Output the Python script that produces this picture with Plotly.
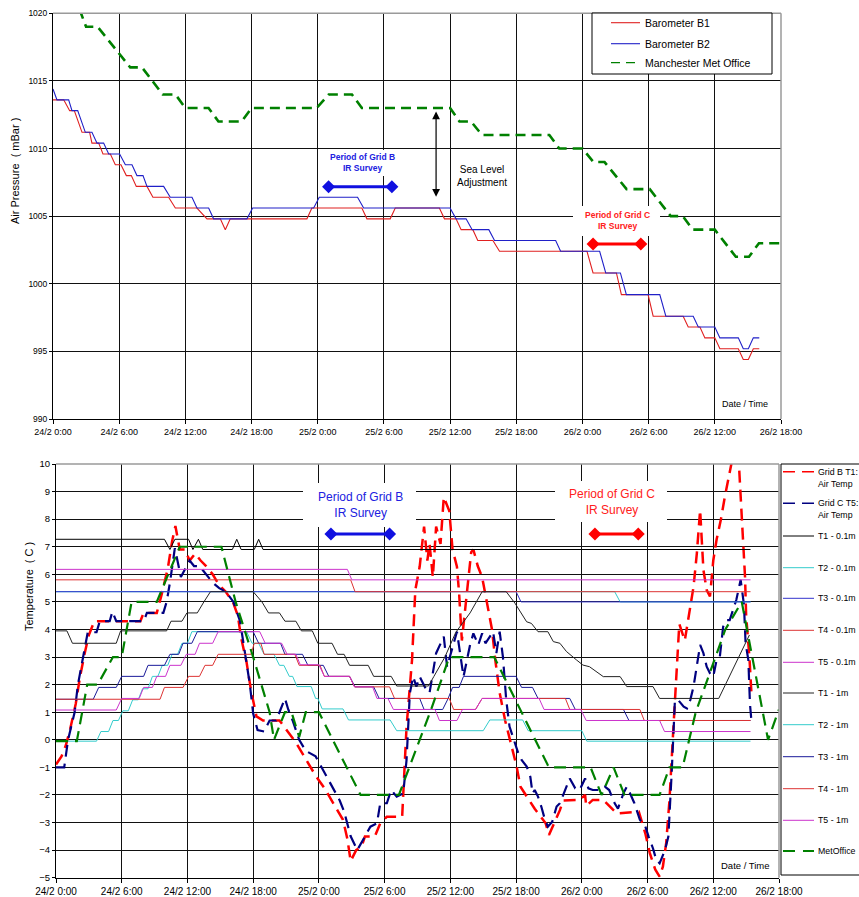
import plotly.graph_objects as go

W, H = 859, 897
FONT = "Liberation Sans, Arial, sans-serif"

# ---------------- shared x ticks (hours after 24/2 0:00) ----------------
tick_hours = [0, 6, 12, 18, 24, 30, 36, 42, 48, 54, 60, 66]
tick_labels = ["24/2 0:00", "24/2 6:00", "24/2 12:00", "24/2 18:00", "25/2 0:00", "25/2 6:00",
               "25/2 12:00", "25/2 18:00", "26/2 0:00", "26/2 6:00", "26/2 12:00", "26/2 18:00"]

# ---------------- top chart: air pressure (mBar) ----------------
p_ticks = [990, 995, 1000, 1005, 1010, 1015, 1020]

b1_t = [0, 0.97, 1.51, 1.93, 2.63, 3.32, 3.53, 4.14, 4.53, 5.2, 5.65, 6.16, 6.65, 7.1, 7.55, 8.52, 9.06,
        10.48, 11.09, 13.05, 13.96, 15.17, 15.62, 16.07, 23.02, 23.47, 28.0, 28.46, 30.57, 31.03, 35.03,
        35.49, 36.54, 37.0, 38.06, 38.51, 39.88, 40.48, 48.41, 48.96, 51.08, 51.53, 53.95, 54.41, 57.13,
        57.59, 58.65, 59.1, 60.0, 60.46, 62.13, 62.58, 63.04, 63.49, 64.03]
b1_v = [1013.6, 1013.6, 1012.8, 1012.8, 1011.2, 1011.2, 1010.4, 1010.4, 1009.6, 1009.6, 1008.8, 1008.8,
        1008.0, 1008.0, 1007.2, 1007.2, 1006.4, 1006.4, 1005.6, 1005.6, 1004.8, 1004.8, 1004.0, 1004.8,
        1004.8, 1005.6, 1005.6, 1004.8, 1004.8, 1005.6, 1005.6, 1004.8, 1004.8, 1004.0, 1004.0, 1003.2,
        1003.2, 1002.4, 1002.4, 1000.8, 1000.8, 999.2, 999.2, 997.6, 997.6, 996.8, 996.8, 996.0, 996.0,
        995.2, 995.2, 994.4, 994.4, 995.2, 995.2]

b2_t = [0, 0.36, 1.42, 1.72, 2.24, 2.93, 3.53, 3.99, 4.59, 5.05, 6.04, 6.56, 7.16, 7.61, 8.16, 8.52,
        10.03, 10.63, 12.6, 13.05, 14.11, 14.56, 17.58, 18.1, 23.63, 24.14, 27.61, 28.16, 36.0, 36.54,
        37.45, 38.0, 39.51, 40.03, 45.57, 46.02, 49.56, 50.11, 51.44, 51.98, 55.01, 55.56, 58.04, 58.5,
        60.0, 60.46, 62.13, 62.58, 63.04, 63.49, 64.03]
b2_v = [1014.4, 1013.6, 1013.6, 1012.8, 1012.8, 1011.2, 1011.2, 1010.4, 1010.4, 1009.6, 1009.6, 1008.8,
        1008.8, 1008.0, 1008.0, 1007.2, 1007.2, 1006.4, 1006.4, 1005.6, 1005.6, 1004.8, 1004.8, 1005.6,
        1005.6, 1006.4, 1006.4, 1005.6, 1005.6, 1004.8, 1004.8, 1004.0, 1004.0, 1003.2, 1003.2, 1002.4,
        1002.4, 1000.8, 1000.8, 999.2, 999.2, 997.6, 997.6, 996.8, 996.8, 996.0, 996.0, 995.2, 995.2,
        996.0, 996.0]

mo_t = [2.4, 3.0, 4.05, 7.0, 8.07, 9.94, 11.1, 12.0, 14.1, 15.0, 17.1, 18.0, 23.9, 25.0, 27.1, 28.0,
        36.0, 36.85, 37.9, 38.9, 45.0, 45.9, 48.0, 49.0, 50.0, 52.0, 54.1, 56.0, 57.1, 58.0, 60.0, 61.9,
        63.1, 64.0, 66.0]
mo_v = [1020.3, 1019, 1019, 1016, 1016, 1014, 1014, 1013, 1013, 1012, 1012, 1013, 1013, 1014, 1014, 1013,
        1013, 1012, 1012, 1011, 1011, 1010, 1010, 1009, 1009, 1007, 1007, 1005, 1005, 1004, 1004, 1002,
        1002, 1003, 1003]

# survey periods (top chart)
gridB_p_t = [24.98, 30.72]
gridB_p_v = [1007.18, 1007.18]
gridC_p_t = [48.96, 53.29]
gridC_p_v = [1002.94, 1002.94]
sea_level_t = 34.73
sea_level_v = [1006.44, 1012.85]

# ---------------- bottom chart: temperature (C) ----------------
t_ticks = list(range(-5, 11))

gb_t = [0, 0.5, 0.9, 1.3, 1.8, 2.2, 2.6, 3.0, 3.5, 7.7, 8.0, 9.2, 9.6, 10.2, 10.6, 10.9, 11.3, 11.75,
        12.2, 12.7, 13.2, 13.7, 14.3, 14.9, 15.5, 16.2, 16.6, 16.9, 17.4, 17.8, 18.3, 18.9, 20.4, 21.9,
        22.8, 23.7, 24.5, 25.3, 26.2, 26.6, 26.9, 27.4, 27.9, 28.2, 29.1, 29.6, 30.2, 31.6, 31.8, 32.0,
        32.5, 32.8, 33.2, 33.6, 33.9, 34.1, 34.4, 34.7, 35.1, 35.4, 35.9, 36.2, 36.6, 36.8, 37.05, 37.3,
        37.6, 37.9, 38.1, 38.5, 38.9, 39.3, 39.8, 40.1, 40.5, 41.0, 41.8, 42.05, 42.4, 42.97, 43.7, 44.7,
        45.0, 46.0, 46.3, 47.8, 48.3, 48.4, 49.0, 49.96, 50.9, 51.2, 53.2, 53.8, 54.2, 54.7, 55.1, 55.4,
        55.7, 56.0, 56.3, 56.6, 56.9, 57.4, 57.8, 58.2, 58.5, 58.8, 59.1, 59.4, 59.7, 60.0, 60.3, 60.7,
        61.05, 61.5, 61.8, 62.3, 62.6, 62.9, 63.0, 63.3, 63.5]
gb_v = [-0.9, -0.6, -0.2, 0.4, 1.3, 2.3, 3.1, 3.8, 4.3, 4.3, 4.6, 4.6, 5.2, 6.2, 7.2, 7.75, 6.9, 6.9,
        6.5, 6.75, 6.5, 6.3, 6.0, 5.6, 5.37, 4.95, 4.5, 3.7, 2.8, 1.8, 0.85, 0.7, 0.7, -0.1,
        -0.7, -1.3, -1.75, -2.3, -2.9, -3.6, -4.4, -4.0, -3.87, -3.51, -3.51, -3.03, -2.79, -2.79, -1.2, 0.47,
        2.89, 5.43, 6.28, 7.73, 6.5, 7.1, 5.9, 7.73, 7.1, 8.8, 8.3, 6.9, 6.28, 5.3, 3.6, 4.5,
        5.7, 6.8, 6.9, 6.3, 5.9, 5.0, 4.0, 2.9, 1.7, 0.7, -0.5, -0.97, -1.7, -2.06, -2.5, -3.03,
        -3.45, -2.55, -2.2, -2.18, -2.0, -2.4, -2.18, -2.18, -2.55, -2.67, -2.6, -3.4, -4.1, -4.7, -4.96, -4.6,
        -3.75, -2.2, 0.0, 2.05, 4.2, 3.6, 4.5, 5.55, 6.76, 8.33, 6.16, 5.43, 5.2, 6.5, 7.25, 8.0,
        8.8, 9.8, 10.3, 10.3, 8.1, 5.9, 4.5, 3.0, 1.56]

gc_t = [0, 0.75, 1.1, 1.7, 2.0, 2.5, 2.9, 3.7, 4.0, 4.9, 5.15, 5.5, 8.0, 8.3, 9.8, 10.1, 10.4, 10.85,
        11.4, 11.8, 12.2, 12.6, 13.1, 14.3, 14.9, 15.5, 16.2, 16.8, 17.2, 17.7, 18.0, 18.4, 19.0, 19.5,
        20.1, 20.9, 21.2, 21.6, 22.2, 22.8, 23.7, 24.5, 25.3, 25.9, 26.3, 26.9, 27.5, 28.2, 28.7, 29.3,
        29.6, 30.2, 30.6, 31.1, 31.7, 32.0, 32.3, 32.6, 32.9, 33.2, 33.8, 34.1, 34.7, 35.4, 35.7, 36.6,
        37.2, 37.8, 38.1, 38.55, 38.9, 39.2, 39.9, 40.2, 40.5, 40.8, 41.1, 41.4, 41.9, 42.2, 42.5, 42.97,
        43.3, 43.5, 43.7, 44.0, 44.3, 44.6, 44.9, 45.3, 45.7, 46.0, 46.6, 46.9, 47.4, 47.8, 48.3, 48.6,
        49.0, 49.6, 50.1, 50.5, 51.0, 51.3, 51.8, 52.1, 52.4, 52.8, 53.3, 53.8, 54.1, 54.5, 54.8, 55.1,
        55.6, 55.9, 56.2, 56.5, 56.8, 57.3, 57.6, 57.9, 58.2, 58.5, 58.8, 59.1, 59.4, 59.7, 60.0, 60.3,
        60.6, 60.9, 61.2, 61.5, 61.8, 62.1, 62.5, 62.8, 62.95, 63.2, 63.35, 63.5]
gc_v = [-1.0, -1.0, 0.0, 1.0, 2.0, 3.0, 3.9, 3.9, 4.3, 4.3, 4.65, 4.3, 4.3, 4.6, 4.6, 5.0, 5.7, 6.95,
        5.9, 6.2, 6.5, 6.3, 6.3, 5.7, 5.5, 5.37, 5.0, 4.3, 3.3, 2.0, 0.95, 0.35, 0.3, 0.7,
        0.7, 1.5, 1.1, 0.7, 0.0, -0.4, -0.6, -1.2, -1.8, -2.2, -2.6, -3.5, -4.0, -3.5, -3.15, -3.03,
        -2.3, -2.3, -1.82, -2.06, -1.94, -0.73, 1.68, 2.29, 1.93, 2.29, 1.81, 1.7, 3.14, 3.74, 2.65, 3.92,
        2.29, 3.44, 3.86, 3.44, 3.86, 3.5, 3.92, 3.14, 3.92, 3.0, 1.44, 0.48, -0.13, -0.49, -0.73, -0.97,
        -1.34, -1.94, -1.82, -2.06, -2.42, -2.85, -3.15, -2.97, -2.42, -2.3, -1.7, -1.4, -1.76, -1.82, -1.4, -1.76,
        -1.82, -1.82, -1.7, -1.82, -2.3, -2.5, -1.94, -1.7, -1.94, -2.3, -2.9, -3.15, -3.51, -3.94, -4.36, -4.48,
        -3.99, -3.51, -1.22, 1.44, 1.44, 1.2, 1.14, 1.44, 1.93, 2.77, 3.44, 3.14, 2.65, 2.41, 2.29, 2.89,
        3.01, 4.1, 4.34, 4.34, 4.7, 5.07, 5.8, 4.9, 3.5, 2.9, 1.3, 0.6]

t1_01_t = [0, 9.9, 10.4, 10.85, 12.1, 12.5, 13.0, 13.4, 16.1, 16.5, 16.9, 18.1, 18.5, 18.9, 63.4]
t1_01_v = [7.27, 7.27, 6.9, 7.27, 7.27, 6.9, 7.27, 6.9, 6.9, 7.27, 6.9, 6.9, 7.27, 6.9, 6.9]
t2_01_t = [0, 51.0, 51.5, 63.4]
t2_01_v = [5.37, 5.37, 5.0, 5.0]
t3_01_t = [0, 42.0, 42.45, 63.4]
t3_01_v = [5.37, 5.37, 5.0, 5.0]
t4_01_t = [0, 26.9, 27.3, 63.4]
t4_01_v = [5.8, 5.8, 5.37, 5.37]
t5_01_t = [0, 26.6, 27.0, 63.4]
t5_01_v = [6.18, 6.18, 5.8, 5.8]

t1_1_t = [0, 1.0, 1.5, 5.5, 5.9, 10.1, 10.5, 11.5, 11.95, 12.9, 13.5, 14.1, 18.0, 18.8, 19.4, 20.4, 20.9,
          21.9, 22.4, 23.4, 23.9, 25.2, 25.7, 26.3, 26.8, 28.5, 29.0, 30.6, 31.1, 34.0, 34.5, 35.5, 36.5,
          37.2, 37.8, 38.9, 41.1, 41.9, 42.5, 42.96, 43.4, 44.0, 44.9, 45.4, 46.0, 46.6, 47.5, 48.1, 48.7,
          49.96, 51.5, 52.1, 54.5, 55.1, 60.5, 63.3]
t1_1_v = [3.95, 3.95, 3.5, 3.5, 3.95, 3.95, 4.3, 4.3, 4.6, 4.6, 5.0, 5.37, 5.37, 5.0, 4.6, 4.6, 4.3,
          4.3, 3.95, 3.95, 3.5, 3.5, 3.1, 3.1, 2.7, 2.7, 2.3, 2.3, 1.95, 1.95, 2.3, 3.0, 3.9,
          4.3, 4.6, 5.37, 5.37, 4.95, 4.59, 4.28, 4.22, 3.92, 3.92, 3.56, 3.5, 3.2, 2.9, 2.71, 2.65,
          2.29, 2.29, 1.93, 1.93, 1.5, 1.5, 3.8]
t2_1_t = [0, 3.7, 4.1, 4.8, 5.2, 5.7, 6.1, 6.6, 7.0, 7.5, 7.9, 8.4, 8.8, 9.3, 9.7, 10.2, 10.6, 11.1, 11.5,
          12.0, 12.4, 17.4, 17.9, 18.5, 19.0, 19.9, 20.4, 20.8, 21.3, 21.6, 22.0, 23.3, 23.7, 23.9, 24.3,
          26.2, 26.7, 30.5, 31.1, 39.0, 39.6, 42.6, 43.1, 48.0, 48.45, 63.4]
t2_1_v = [-0.05, -0.05, 0.3, 0.3, 0.7, 0.7, 1.05, 1.05, 1.45, 1.45, 1.85, 1.85, 2.3, 2.3, 2.7, 2.7, 3.1,
          3.1, 3.5, 3.5, 3.92, 3.92, 3.5, 3.5, 3.1, 3.1, 2.7, 2.7, 2.3, 2.3, 1.93, 1.93, 1.5, 1.5, 1.12,
          1.12, 0.72, 0.72, 0.33, 0.33, 0.72, 0.72, 0.33, 0.33, -0.05, -0.05]
t3_1_t = [0, 3.4, 3.9, 5.5, 6.0, 8.0, 8.4, 9.9, 10.4, 11.2, 11.6, 12.4, 12.9, 18.0, 18.5, 20.5, 20.9,
          22.5, 23.0, 24.4, 24.9, 26.8, 27.3, 29.0, 29.5, 33.2, 33.6, 35.3, 35.8, 36.2, 36.8, 37.2, 42.0,
          42.5, 43.5, 44.0, 46.9, 47.4, 51.8, 52.3, 63.4]
t3_1_v = [1.47, 1.47, 1.9, 1.9, 2.3, 2.3, 2.7, 2.7, 3.1, 3.1, 3.5, 3.5, 3.92, 3.92, 3.5, 3.5, 3.1,
          3.1, 2.7, 2.7, 2.3, 2.3, 1.92, 1.92, 1.5, 1.5, 1.1, 1.1, 1.5, 1.9, 1.9, 2.3, 2.3,
          1.9, 1.9, 1.5, 1.5, 1.1, 1.1, 0.7, 0.7]
t4_1_t = [0, 9.5, 9.9, 11.6, 12.1, 13.1, 13.6, 14.3, 14.8, 17.8, 18.1, 18.7, 19.0, 21.8, 22.2, 24.1, 24.5,
          26.8, 27.25, 30.45, 30.9, 35.9, 36.3, 38.3, 38.9, 46.5, 46.9, 53.3, 53.7, 63.4]
t4_1_v = [1.47, 1.47, 1.9, 1.9, 2.3, 2.3, 2.7, 2.7, 3.1, 3.1, 3.5, 3.5, 3.1, 3.1, 2.7, 2.7, 2.3,
          2.3, 1.92, 1.92, 1.5, 1.5, 1.1, 1.1, 1.5, 1.5, 1.1, 1.1, 0.7, 0.7]
t5_1_t = [0, 5.5, 6.0, 7.6, 8.0, 8.8, 9.2, 10.0, 10.4, 11.4, 11.9, 12.7, 13.1, 14.3, 14.8, 18.6, 19.1,
          20.6, 21.1, 21.9, 22.3, 24.0, 24.5, 26.8, 27.25, 28.9, 29.3, 30.3, 30.8, 34.6, 35.0, 36.6, 37.1,
          38.3, 38.9, 44.1, 44.55, 47.9, 48.4, 55.1, 55.55, 63.4]
t5_1_v = [1.08, 1.08, 1.5, 1.5, 1.9, 1.9, 2.3, 2.3, 2.7, 2.7, 3.1, 3.1, 3.5, 3.5, 3.92, 3.92, 3.5,
          3.5, 3.1, 3.1, 2.72, 2.72, 2.3, 2.3, 1.92, 1.92, 1.5, 1.5, 1.1, 1.1, 0.7, 0.7, 1.1,
          1.1, 1.5, 1.5, 1.1, 1.1, 0.7, 0.7, 0.3, 0.3]

met_t = [0, 1.9, 2.85, 3.8, 5.2, 6.0, 6.9, 9.2, 11.3, 15.1, 16.4, 18.0, 19.5, 19.9, 20.9, 21.5, 22.2, 22.8,
         24.0, 27.8, 31.3, 34.2, 35.9, 40.0, 45.0, 48.8, 49.8, 50.9, 51.9, 55.1, 56.0, 57.2, 58.4, 60.2,
         61.1, 62.6, 65.0, 66.0]
met_v = [-0.05, -0.05, 2.0, 2.0, 3.0, 3.0, 5.0, 5.0, 7.0, 7.0, 5.0, 3.0, 1.0, 0.0, 1.0, 1.0, 0.1, 1.0,
         1.0, -2.0, -2.0, 1.05, 3.0, 3.0, -1.0, -1.0, -2.0, -1.0, -2.0, -2.0, -1.0, -1.0, 1.0, 3.0,
         4.0, 5.0, 0.0, 1.1]

gridB_t_t = [25.1, 30.45]
gridC_t_t = [49.2, 53.15]
period_t_v = [7.46, 7.46]

# ---------------- styles ----------------
C_RED, C_NAVY, C_BLACK = "#ff0000", "#000080", "#000000"
C_CYAN, C_BLUE, C_RED2, C_MAG, C_NAVY2 = "#33cccc", "#3333cc", "#dd3333", "#cc33cc", "#1a1a99"
C_GREEN = "#008000"

fig = go.Figure()

def add(x, y, color, width, dash="solid", axis=1, name=None):
    fig.add_trace(go.Scatter(x=x, y=y, mode="lines", name=name, showlegend=False,
                             line=dict(color=color, width=width, dash=dash),
                             xaxis="x" if axis == 1 else "x2", yaxis="y" if axis == 1 else "y2",
                             hoverinfo="skip"))

# top
add(b1_t, b1_v, "#e02020", 1.1, name="Barometer B1")
add(b2_t, b2_v, "#2020c8", 1.1, name="Barometer B2")
add(mo_t, mo_v, C_GREEN, 2.6, "10px,6px", name="Manchester Met Office")
for xs, ys, col in [(gridB_p_t, gridB_p_v, "#1010e0"), (gridC_p_t, gridC_p_v, "#ff0000")]:
    fig.add_trace(go.Scatter(x=xs, y=ys, mode="lines+markers", showlegend=False, hoverinfo="skip",
                             line=dict(color=col, width=3), marker=dict(symbol="diamond", size=10, color=col),
                             xaxis="x", yaxis="y"))

# bottom (Excel series order)
DASH_B = "12px,7px"
add(gb_t, gb_v, C_RED, 2.5, DASH_B, 2, "Grid B T1: Air Temp")
add(gc_t, gc_v, C_NAVY, 2.2, DASH_B, 2, "Grid C T5: Air Temp")
add(t1_01_t, t1_01_v, C_BLACK, 1, axis=2, name="T1 - 0.1m")
add(t2_01_t, t2_01_v, C_CYAN, 1, axis=2, name="T2 - 0.1m")
add(t3_01_t, t3_01_v, C_BLUE, 1, axis=2, name="T3 - 0.1m")
add(t4_01_t, t4_01_v, C_RED2, 1, axis=2, name="T4 - 0.1m")
add(t5_01_t, t5_01_v, C_MAG, 1, axis=2, name="T5 - 0.1m")
add(t1_1_t, t1_1_v, "#222222", 1, axis=2, name="T1 - 1m")
add(t2_1_t, t2_1_v, C_CYAN, 1, axis=2, name="T2 - 1m")
add(t3_1_t, t3_1_v, C_NAVY2, 1, axis=2, name="T3 - 1m")
add(t4_1_t, t4_1_v, C_RED2, 1, axis=2, name="T4 - 1m")
add(t5_1_t, t5_1_v, C_MAG, 1, axis=2, name="T5 - 1m")
add(met_t, met_v, C_GREEN, 2.2, DASH_B, 2, "MetOffice")
for xs, col in [(gridB_t_t, "#1010e0"), (gridC_t_t, "#ff0000")]:
    fig.add_trace(go.Scatter(x=xs, y=period_t_v, mode="lines+markers", showlegend=False, hoverinfo="skip",
                             line=dict(color=col, width=3), marker=dict(symbol="diamond", size=10, color=col),
                             xaxis="x2", yaxis="y2"))

def px(X): return X / W
def py(Y): return 1 - Y / H

# plot areas (pixels)
T_L, T_R, T_T, T_B = 53, 781, 13.3, 419
B_L, B_R, B_T, B_B = 56, 779, 464, 877.7

axis_common = dict(showgrid=True, gridcolor="#111111", gridwidth=1, zeroline=False, showline=True,
                   linecolor="#000000", linewidth=1, ticks="outside", tickcolor="#000000", fixedrange=True)

fig.update_layout(
    width=W, height=H, margin=dict(l=0, r=0, t=0, b=0, autoexpand=False),
    paper_bgcolor="white", plot_bgcolor="white", showlegend=False,
    font=dict(family=FONT, color="#000000"),
    xaxis=dict(domain=[px(T_L), px(T_R)], range=[0, 66], tickvals=tick_hours, ticktext=tick_labels,
               ticklen=4, tickfont=dict(size=9), anchor="y", **axis_common),
    yaxis=dict(domain=[py(T_B), py(T_T)], range=[990, 1020], tickvals=p_ticks, ticklen=3,
               tickfont=dict(size=8.5), anchor="x", **axis_common),
    xaxis2=dict(domain=[px(B_L), px(B_R)], range=[0, 66], tickvals=tick_hours, ticktext=tick_labels,
                ticklen=4, tickfont=dict(size=10), anchor="y2", **axis_common),
    yaxis2=dict(domain=[py(B_B), py(B_T)], range=[-5, 10], tickvals=t_ticks, ticklen=3,
                tickfont=dict(size=9.5), anchor="x2", **axis_common),
)

shapes = []
# grey top / right borders
for (L, R, T, B) in [(T_L, T_R, T_T, T_B), (B_L, B_R, B_T, B_B)]:
    shapes.append(dict(type="line", xref="paper", yref="paper", x0=px(L), x1=px(R), y0=py(T), y1=py(T),
                       line=dict(color="#9a9a9a", width=1.5), layer="above"))
    shapes.append(dict(type="line", xref="paper", yref="paper", x0=px(R), x1=px(R), y0=py(T), y1=py(B),
                       line=dict(color="#9a9a9a", width=1.5), layer="above"))
# white label boxes (hide gridlines)
for (x0, x1, y0, y1) in [(322, 402, 150, 176), (573, 660, 206, 236), (303, 416, 483, 527), (555, 667, 481, 522)]:
    shapes.append(dict(type="rect", xref="paper", yref="paper", x0=px(x0), x1=px(x1), y0=py(y1), y1=py(y0),
                       fillcolor="white", line=dict(width=0), layer="above"))
# top legend box
shapes.append(dict(type="rect", xref="paper", yref="paper", x0=px(592), x1=px(772), y0=py(74), y1=py(13),
                   fillcolor="white", line=dict(color="#000000", width=1), layer="above"))
top_leg = [("Barometer B1", "#e02020", 1.1, "solid", 22.7),
           ("Barometer B2", "#2020c8", 1.1, "solid", 43.7),
           ("Manchester Met Office", C_GREEN, 1.3, "9px,6px", 62.7)]
for name, col, wdt, dsh, Y in top_leg:
    shapes.append(dict(type="line", xref="paper", yref="paper", x0=px(611), x1=px(640), y0=py(Y), y1=py(Y),
                       line=dict(color=col, width=wdt, dash=dsh), layer="above"))
# bottom legend box
shapes.append(dict(type="rect", xref="paper", yref="paper", x0=px(781), x1=px(880), y0=py(875), y1=py(464),
                   fillcolor="white", line=dict(color="#000000", width=1), layer="above"))
bot_leg = [("Grid B T1:", C_RED, 1.6, "12px,7px", 471.7, "Air Temp"),
           ("Grid C T5:", C_NAVY, 1.6, "12px,7px", 503.3, "Air Temp"),
           ("T1 - 0.1m", C_BLACK, 1, "solid", 536, None),
           ("T2 - 0.1m", C_CYAN, 1, "solid", 567.7, None),
           ("T3 - 0.1m", C_BLUE, 1, "solid", 598.3, None),
           ("T4 - 0.1m", C_RED2, 1, "solid", 630.3, None),
           ("T5 - 0.1m", C_MAG, 1, "solid", 662.3, None),
           ("T1 - 1m", "#222222", 1, "solid", 693, None),
           ("T2 - 1m", C_CYAN, 1, "solid", 724.7, None),
           ("T3 - 1m", C_NAVY2, 1, "solid", 756.7, None),
           ("T4 - 1m", C_RED2, 1, "solid", 788.7, None),
           ("T5 - 1m", C_MAG, 1, "solid", 820.3, None),
           ("MetOffice", C_GREEN, 2, "12px,8px", 851, None)]
for name, col, wdt, dsh, Y, sub in bot_leg:
    shapes.append(dict(type="line", xref="paper", yref="paper", x0=px(783), x1=px(814), y0=py(Y), y1=py(Y),
                       line=dict(color=col, width=wdt, dash=dsh), layer="above"))

ann = []
def text(X, Y, s, size, color="#000000", anchor="center", angle=0):
    ann.append(dict(xref="paper", yref="paper", x=px(X), y=py(Y), text=s, showarrow=False,
                    xanchor=anchor, yanchor="middle", textangle=angle,
                    font=dict(size=size, color=color, family=FONT)))

for name, col, wdt, dsh, Y in top_leg:
    text(643, Y, name, 10.5, anchor="left")
for name, col, wdt, dsh, Y, sub in bot_leg:
    text(816, Y, name, 8.8, anchor="left")
    if sub:
        text(816, Y + 12, sub, 8.8, anchor="left")

text(15, 171, "Air Pressure  ( mBar )", 11, angle=-90)
text(29, 587, "Temperature  ( C )", 11, angle=-90)
text(362, 162.5, "<b>Period of Grid B<br>IR Survey</b>", 8.5, "#2020e0")
text(482, 176, "Sea Level<br>Adjustment", 10)
text(617, 221, "<b>Period of Grid C<br>IR Survey</b>", 8.5, "#ff2020")
text(745, 404, "Date / Time", 9)
text(360, 505, "Period of Grid B<br>IR Survey", 12, "#2020e0")
text(611.7, 502, "Period of Grid C<br>IR Survey", 12, "#ff2020")
text(745, 865, "Date / Time", 9.5)

# sea level adjustment double arrow
ann.append(dict(xref="x", yref="y", x=sea_level_t, y=sea_level_v[0], axref="x", ayref="y",
                ax=sea_level_t, ay=sea_level_v[1], text="", showarrow=True, arrowside="end+start",
                arrowhead=2, startarrowhead=2, arrowsize=1.3, startarrowsize=1.3, arrowwidth=1.2,
                arrowcolor="#000000", standoff=0, startstandoff=0))

fig.update_layout(shapes=shapes, annotations=ann)
fig.write_html("out.html")
